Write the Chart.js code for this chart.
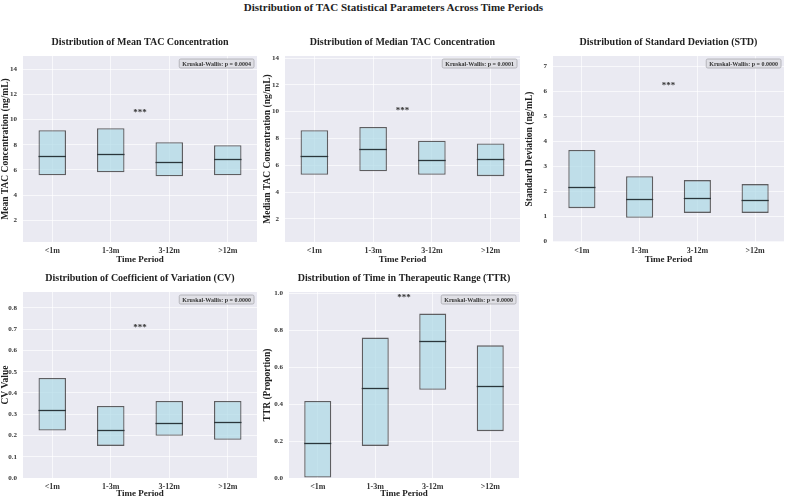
<!DOCTYPE html>
<html>
<head>
<meta charset="utf-8">
<script src="https://cdn.jsdelivr.net/npm/chart.js@4.4.1/dist/chart.umd.min.js"></script>
<style>
html, body { margin:0; padding:0; background:#fff; overflow:hidden; }
#wrap { position:relative; width:787px; height:498px; }
#main { position:absolute; left:0; top:0; width:787px; text-align:center;
        font:bold 11px "Liberation Serif", serif; line-height:14px; color:#222; }
canvas { position:absolute; }
</style>
</head>
<body>
<div id="wrap">
  <div id="main">Distribution of TAC Statistical Parameters Across Time Periods</div>
  <canvas id="c1"></canvas>
  <canvas id="c2"></canvas>
  <canvas id="c3"></canvas>
  <canvas id="c4"></canvas>
  <canvas id="c5"></canvas>
</div>
<script>
'use strict';

/* ── data ── */
const periods = ['<1m', '1-3m', '3-12m', '>12m'];

const meanQ1  = [5.58, 5.81, 5.50, 5.58];
const meanMed = [7.09, 7.30, 6.61, 6.85];
const meanQ3  = [9.15, 9.31, 8.20, 7.96];

const medianQ1  = [5.29, 5.56, 5.29, 5.19];
const medianMed = [6.71, 7.20, 6.38, 6.48];
const medianQ3  = [8.62, 8.85, 7.83, 7.63];

const stdQ1  = [1.33, 0.95, 1.14, 1.14];
const stdMed = [2.19, 1.68, 1.72, 1.64];
const stdQ3  = [3.65, 2.60, 2.45, 2.29];

const cvQ1  = [0.223, 0.151, 0.199, 0.180];
const cvMed = [0.322, 0.227, 0.260, 0.265];
const cvQ3  = [0.471, 0.339, 0.362, 0.362];

const ttrQ1  = [0.000, 0.174, 0.478, 0.254];
const ttrMed = [0.190, 0.489, 0.741, 0.496];
const ttrQ3  = [0.417, 0.761, 0.891, 0.719];

const pValues = ['0.0004', '0.0001', '0.0000', '0.0000', '0.0000'];
const starLevels = [10.56, 10.07, 6.22, 0.709, 0.976];

const ticksMean   = [2, 4, 6, 8, 10, 12, 14];
const ticksMedian = [2, 4, 6, 8, 10, 12, 14];
const ticksStd    = [0, 1, 2, 3, 4, 5, 6, 7];
const ticksCv     = [0, 0.1, 0.2, 0.3, 0.4, 0.5, 0.6, 0.7, 0.8];
const ticksTtr    = [0, 0.2, 0.4, 0.6, 0.8, 1.0];

/* ── styles ── */
const SERIF = '"Liberation Serif", serif';
const BG = '#eaeaf2';
const GRID = 'rgba(255,255,255,0.65)';
const BOX_FILL = 'rgba(173,216,230,0.7)';
const BOX_EDGE = 'rgba(40,40,40,0.72)';
const MED_COL = '#2a363b';

/* ── plugins ── */
const areaBg = {
  id: 'areaBg',
  beforeDraw(chart) {
    const { ctx, chartArea: a } = chart;
    ctx.save();
    ctx.fillStyle = BG;
    ctx.fillRect(a.left, a.top, a.right - a.left, a.bottom - a.top);
    ctx.restore();
  }
};

const extras = {
  id: 'extras',
  afterDatasetsDraw(chart) {
    const o = chart.options.plugins.extras;
    const { ctx, chartArea: a } = chart;
    const y = chart.scales.y;
    const meta = chart.getDatasetMeta(0);
    ctx.save();
    // medians
    ctx.strokeStyle = MED_COL;
    ctx.lineWidth = 1.3;
    meta.data.forEach((bar, i) => {
      const py = Math.round(y.getPixelForValue(o.med[i])) + 0.5;
      ctx.beginPath();
      ctx.moveTo(bar.x - bar.width / 2, py);
      ctx.lineTo(bar.x + bar.width / 2, py);
      ctx.stroke();
    });
    // stars
    ctx.fillStyle = '#333';
    ctx.font = 'bold 9px ' + SERIF;
    ctx.textAlign = 'center';
    ctx.textBaseline = 'middle';
    ctx.fillText('***', (a.left + a.right) / 2, y.getPixelForValue(o.star));
    // Kruskal-Wallis box
    const txt = 'Kruskal-Wallis: p = ' + o.p;
    ctx.font = 'bold 6px ' + SERIF;
    const w = ctx.measureText(txt).width + 6;
    const bx = a.right - 3 - w, by = a.top + 3, bh = 9;
    ctx.beginPath();
    ctx.roundRect(bx, by, w, bh, 1.5);
    ctx.fillStyle = '#dfdfe5';
    ctx.fill();
    ctx.strokeStyle = '#a8a8ae';
    ctx.lineWidth = 0.8;
    ctx.stroke();
    ctx.fillStyle = '#333';
    ctx.textAlign = 'left';
    ctx.fillText(txt, bx + 3, by + bh / 2 + 0.5);
    ctx.restore();
  }
};

/* ── panel builder ── */
function panel(id, p) {
  const el = document.getElementById(id);
  el.width = p.w; el.height = p.h;
  el.style.left = p.left + 'px'; el.style.top = p.top + 'px';
  el.style.width = p.w + 'px'; el.style.height = p.h + 'px';
  const yw = p.areaL - p.left;
  const pr = p.left + p.w - p.areaR;
  const xh = p.top + p.h - p.areaB;
  new Chart(el, {
    type: 'bar',
    data: {
      labels: periods,
      datasets: [{
        data: p.q1.map((v, i) => [v, p.q3[i]]),
        backgroundColor: BOX_FILL,
        borderColor: BOX_EDGE,
        borderWidth: 1.3,
        borderSkipped: false,
        categoryPercentage: 1,
        barPercentage: 0.47
      }]
    },
    options: {
      responsive: false,
      animation: false,
      layout: { padding: { left: 0, right: pr, top: 0, bottom: 0 } },
      plugins: {
        legend: { display: false },
        tooltip: { enabled: false },
        title: {
          display: true, text: p.title, fullSize: false, color: '#222',
          font: { family: SERIF, size: 10, weight: 'bold', lineHeight: 1 },
          padding: { top: 7, bottom: 9 }
        },
        extras: { med: p.med, star: p.star, p: p.pv }
      },
      scales: {
        x: {
          grid: { color: GRID, lineWidth: 1, offset: false, drawTicks: false },
          border: { display: false },
          ticks: { color: '#333', padding: 4, font: { family: SERIF, size: 8, weight: 'bold' } },
          title: { display: true, text: 'Time Period', color: '#222',
                   font: { family: SERIF, size: 9, weight: 'bold', lineHeight: 1 },
                   padding: { top: 0, bottom: p.xtPad } },
          afterFit: s => { s.height = xh; }
        },
        y: {
          min: p.min, max: p.max,
          grid: { color: GRID, lineWidth: 1, drawTicks: false },
          border: { display: false },
          ticks: { color: '#333', padding: 6, font: { family: SERIF, size: 7, weight: 'bold' },
                   callback: v => v.toFixed(p.dec) },
          afterBuildTicks: s => { s.ticks = p.ticks.map(v => ({ value: v })); },
          title: { display: true, text: p.ytitle, color: '#222',
                   font: { family: SERIF, size: 9.5, weight: 'bold', lineHeight: 1 },
                   padding: { top: 1, bottom: 0 } },
          afterFit: s => { s.width = yw; }
        }
      }
    },
    plugins: [areaBg, extras]
  });
}

panel('c1', { left: 0, top: 30, w: 262, h: 238, areaL: 23, areaR: 257, areaB: 242, xtPad: 3.5,
  title: 'Distribution of Mean TAC Concentration', ytitle: 'Mean TAC Concentration (ng/mL)',
  q1: meanQ1, q3: meanQ3, med: meanMed, star: starLevels[0], pv: pValues[0],
  min: 0.27, max: 15.06, ticks: ticksMean, dec: 0 });

panel('c2', { left: 262, top: 30, w: 262, h: 238, areaL: 285, areaR: 520, areaB: 242, xtPad: 3.5,
  title: 'Distribution of Median TAC Concentration', ytitle: 'Median TAC Concentration (ng/mL)',
  q1: medianQ1, q3: medianQ3, med: medianMed, star: starLevels[1], pv: pValues[1],
  min: 0.28, max: 14.15, ticks: ticksMedian, dec: 0 });

panel('c3', { left: 524, top: 30, w: 263, h: 238, areaL: 553, areaR: 784, areaB: 242, xtPad: 3.5,
  title: 'Distribution of Standard Deviation (STD)', ytitle: 'Standard Deviation (ng/mL)',
  q1: stdQ1, q3: stdQ3, med: stdMed, star: starLevels[2], pv: pValues[2],
  min: -0.02, max: 7.4, ticks: ticksStd, dec: 0 });

panel('c4', { left: 0, top: 266, w: 262, h: 232, areaL: 23, areaR: 257, areaB: 478, xtPad: 0,
  title: 'Distribution of Coefficient of Variation (CV)', ytitle: 'CV Value',
  q1: cvQ1, q3: cvQ3, med: cvMed, star: starLevels[3], pv: pValues[3],
  min: 0, max: 0.875, ticks: ticksCv, dec: 1 });

panel('c5', { left: 262, top: 266, w: 262, h: 232, areaL: 289, areaR: 519, areaB: 478, xtPad: 0,
  title: 'Distribution of Time in Therapeutic Range (TTR)', ytitle: 'TTR (Proportion)',
  q1: ttrQ1, q3: ttrQ3, med: ttrMed, star: starLevels[4], pv: pValues[4],
  min: 0, max: 1.008, ticks: ticksTtr, dec: 1 });
</script>
</body>
</html>
